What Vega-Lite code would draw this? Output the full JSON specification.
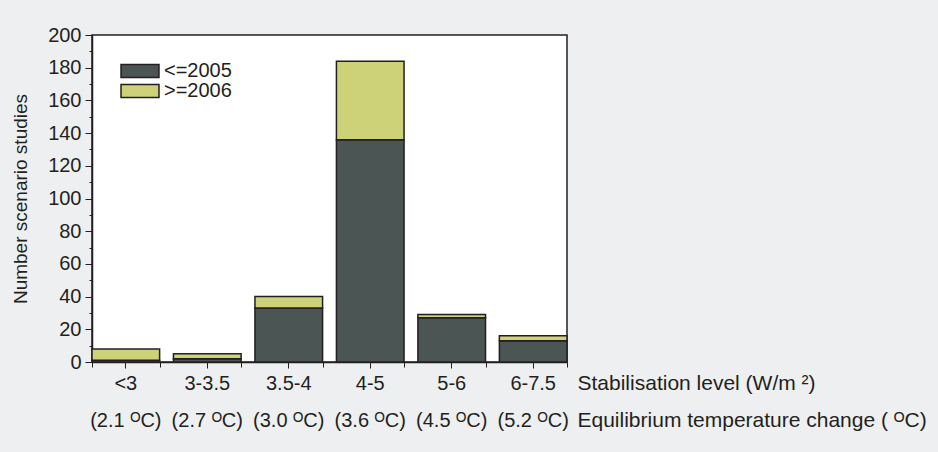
{
  "$schema": "https://vega.github.io/schema/vega-lite/v6.json",
  "autosize": "none",
  "width": 475,
  "height": 327,
  "padding": {"left": 92, "top": 35, "right": 371, "bottom": 90},
  "background": "#eeeff0",
  "config": {
    "font": "Liberation Sans",
    "view": {"fill": "white", "stroke": "#231f20", "strokeWidth": 1.5},
    "axis": {"domainColor": "#231f20", "tickColor": "#231f20", "labelColor": "#231f20", "titleColor": "#231f20", "grid": false, "labelFont": "Liberation Sans", "titleFont": "Liberation Sans", "titleFontWeight": "normal"}
  },
  "data": {
    "values": [
      {"level": "<3|(2.1 ᴼC)", "period": "<=2005", "ord": 1, "n": 1},
      {"level": "<3|(2.1 ᴼC)", "period": ">=2006", "ord": 2, "n": 7},
      {"level": "3-3.5|(2.7 ᴼC)", "period": "<=2005", "ord": 1, "n": 2},
      {"level": "3-3.5|(2.7 ᴼC)", "period": ">=2006", "ord": 2, "n": 3},
      {"level": "3.5-4|(3.0 ᴼC)", "period": "<=2005", "ord": 1, "n": 33},
      {"level": "3.5-4|(3.0 ᴼC)", "period": ">=2006", "ord": 2, "n": 7},
      {"level": "4-5|(3.6 ᴼC)", "period": "<=2005", "ord": 1, "n": 136},
      {"level": "4-5|(3.6 ᴼC)", "period": ">=2006", "ord": 2, "n": 48},
      {"level": "5-6|(4.5 ᴼC)", "period": "<=2005", "ord": 1, "n": 27},
      {"level": "5-6|(4.5 ᴼC)", "period": ">=2006", "ord": 2, "n": 2},
      {"level": "6-7.5|(5.2 ᴼC)", "period": "<=2005", "ord": 1, "n": 13},
      {"level": "6-7.5|(5.2 ᴼC)", "period": ">=2006", "ord": 2, "n": 3}
    ]
  },
  "resolve": {"axis": {"x": "independent", "y": "independent"}},
  "layer": [
    {
      "mark": {"type": "bar", "stroke": "#231f20", "strokeWidth": 1.5},
      "encoding": {
        "x": {
          "field": "level", "type": "nominal", "sort": null,
          "scale": {"paddingInner": 0.17, "paddingOuter": 0},
          "axis": {
            "orient": "bottom",
            "labelAngle": 0,
            "labelExpr": "split(datum.label, '|')",
            "labelFontSize": 20,
            "labelLineHeight": 37,
            "labelPadding": 5,
            "labelBaseline": "top",
            "tickSize": 6,
            "domainWidth": 1.5,
            "title": ["Stabilisation level (W/m ²)", "Equilibrium temperature change ( ᴼC)"],
            "titleFontSize": 21,
            "titleLineHeight": 37,
            "titleAlign": "left",
            "titleAnchor": "start",
            "titleBaseline": "top",
            "titleX": 485,
            "titleY": 10
          }
        },
        "y": {
          "field": "n", "type": "quantitative", "stack": "zero",
          "scale": {"domain": [0, 200]},
          "axis": {
            "values": [0, 20, 40, 60, 80, 100, 120, 140, 160, 180, 200],
            "labelFontSize": 20,
            "labelPadding": 4,
            "tickSize": 7,
            "domainWidth": 1.5,
            "title": "Number scenario studies",
            "titleFontSize": 19,
            "titlePadding": 17
          }
        },
        "color": {
          "field": "period", "type": "nominal",
          "scale": {"domain": ["<=2005", ">=2006"], "range": ["#4b5553", "#cdd177"]},
          "legend": {
            "title": null,
            "orient": "none",
            "legendX": 38,
            "legendY": 26,
            "symbolType": "M-2.92,-1H2.92V1H-2.92Z",
            "symbolSize": 169,
            "symbolStrokeColor": "#231f20",
            "symbolStrokeWidth": 1.5,
            "labelFontSize": 20,
            "labelColor": "#231f20",
            "labelFont": "Liberation Sans",
            "labelOffset": 14,
            "rowPadding": -2
          }
        },
        "order": {"field": "ord", "type": "quantitative"}
      }
    },
    {
      "mark": {"type": "bar", "opacity": 0},
      "encoding": {
        "x": {
          "field": "level", "type": "nominal", "sort": null,
          "axis": {"orient": "bottom", "labels": false, "domain": false, "title": null, "tickBand": "extent", "tickSize": 5}
        },
        "y": {
          "field": "n", "type": "quantitative", "stack": "zero",
          "axis": {"orient": "left", "values": [10, 30, 50, 70, 90, 110, 130, 150, 170, 190], "labels": false, "domain": false, "title": null, "tickSize": 3}
        },
        "order": {"field": "ord", "type": "quantitative"}
      }
    }
  ]
}
